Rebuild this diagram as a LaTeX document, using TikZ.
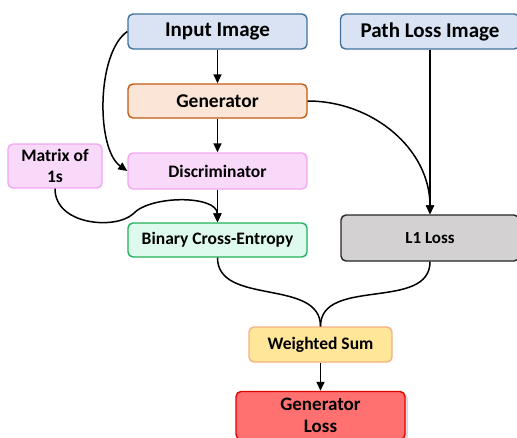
\documentclass[tikz,border=0pt]{standalone}
\usepackage{fontspec}
\setmainfont{Carlito}
\usetikzlibrary{arrows.meta,shadows}
\definecolor{inpfill}{HTML}{DAE3F3}
\definecolor{inpline}{HTML}{41719C}
\definecolor{genfill}{HTML}{FBE5D6}
\definecolor{genline}{HTML}{C55A11}
\definecolor{disfill}{HTML}{F9D9F9}
\definecolor{disline}{HTML}{F2A6F2}
\definecolor{bcefill}{HTML}{DEFAEE}
\definecolor{bceline}{HTML}{22B05A}
\definecolor{lonefill}{HTML}{D3D1D1}
\definecolor{loneline}{HTML}{262626}
\definecolor{sumfill}{HTML}{FFE699}
\definecolor{sumline}{HTML}{F4B183}
\definecolor{lossfill}{HTML}{FF7171}
\definecolor{lossline}{HTML}{E60000}

\begin{document}
\begin{tikzpicture}[x=1pt,y=-1pt,font=\bfseries]
\tikzstyle{block}=[rectangle,rounded corners=5pt,line width=1.4pt,inner sep=0pt,align=center]
\tikzstyle{edge}=[draw,line width=1.5pt,-{Triangle[length=9pt,width=8pt]}]
\tikzstyle{link}=[draw,line width=1.5pt]
\useasboundingbox (0,0) rectangle (517,437);
    \node[block,fill=inpfill,draw=inpline,minimum width=179pt,minimum height=35pt,font=\bfseries\fontsize{21}{23}\selectfont] (input) at (217.5,31.5) {Input Image};
    \node[block,fill=inpfill,draw=inpline,minimum width=179pt,minimum height=35pt,font=\bfseries\fontsize{21}{23}\selectfont] (pli) at (430,31.5) {Path Loss Image};
    \node[block,fill=genfill,draw=genline,minimum width=179pt,minimum height=34pt,font=\bfseries\fontsize{19.5}{21}\selectfont] (gen) at (217.5,101) {Generator};
    \node[block,fill=disfill,draw=disline,minimum width=179pt,minimum height=36pt,font=\bfseries\fontsize{17.5}{19}\selectfont] (dis) at (217.5,171) {Discriminator};
    \node[block,fill=disfill,draw=disline,minimum width=94pt,minimum height=44pt,font=\bfseries\fontsize{17.5}{21}\selectfont] (ones) at (55,166) {Matrix of\\1s};
    \node[block,fill=bcefill,draw=bceline,minimum width=179pt,minimum height=34pt,font=\bfseries\fontsize{17.5}{19}\selectfont] (bce) at (217.5,240) {Binary Cross-Entropy};
    \node[block,fill=lonefill,draw=loneline,minimum width=178pt,minimum height=46pt,font=\bfseries\fontsize{17}{19}\selectfont] (lone) at (430,238) {L1 Loss};
    \node[block,fill=sumfill,draw=sumline,minimum width=143pt,minimum height=35pt,font=\bfseries\fontsize{17.5}{19}\selectfont] (wsum) at (320.5,344.5) {Weighted Sum};
    \node[block,fill=lossfill,draw=lossline,minimum width=169pt,minimum height=48pt,drop shadow={opacity=0.3,shadow xshift=3pt,shadow yshift=-2pt},font=\bfseries\fontsize{19}{22}\selectfont] (gloss) at (320.5,415.5) {Generator\\Loss};
    \path (input) edge [edge] (gen);
    \path (gen) edge [edge] (dis);
    \path (dis) edge [edge] (bce);
    \path (pli) edge [edge] (lone);
    \path (wsum) edge [edge] (gloss);
    \path (input.west) edge [edge,out=215,in=145,looseness=0.7] (dis.west);
    \path (gen.east) edge [edge,out=0,in=90] (lone.north);
    \draw[edge] (ones.south) .. controls (55,225) and (115,230) .. (133,214) .. controls (150,195) and (217,195) .. (bce.north);
    \path (bce.south) edge [link,out=-90,in=90] (wsum.north);
    \path (lone.south) edge [link,out=-90,in=90] (wsum.north);
\end{tikzpicture}
\end{document}
